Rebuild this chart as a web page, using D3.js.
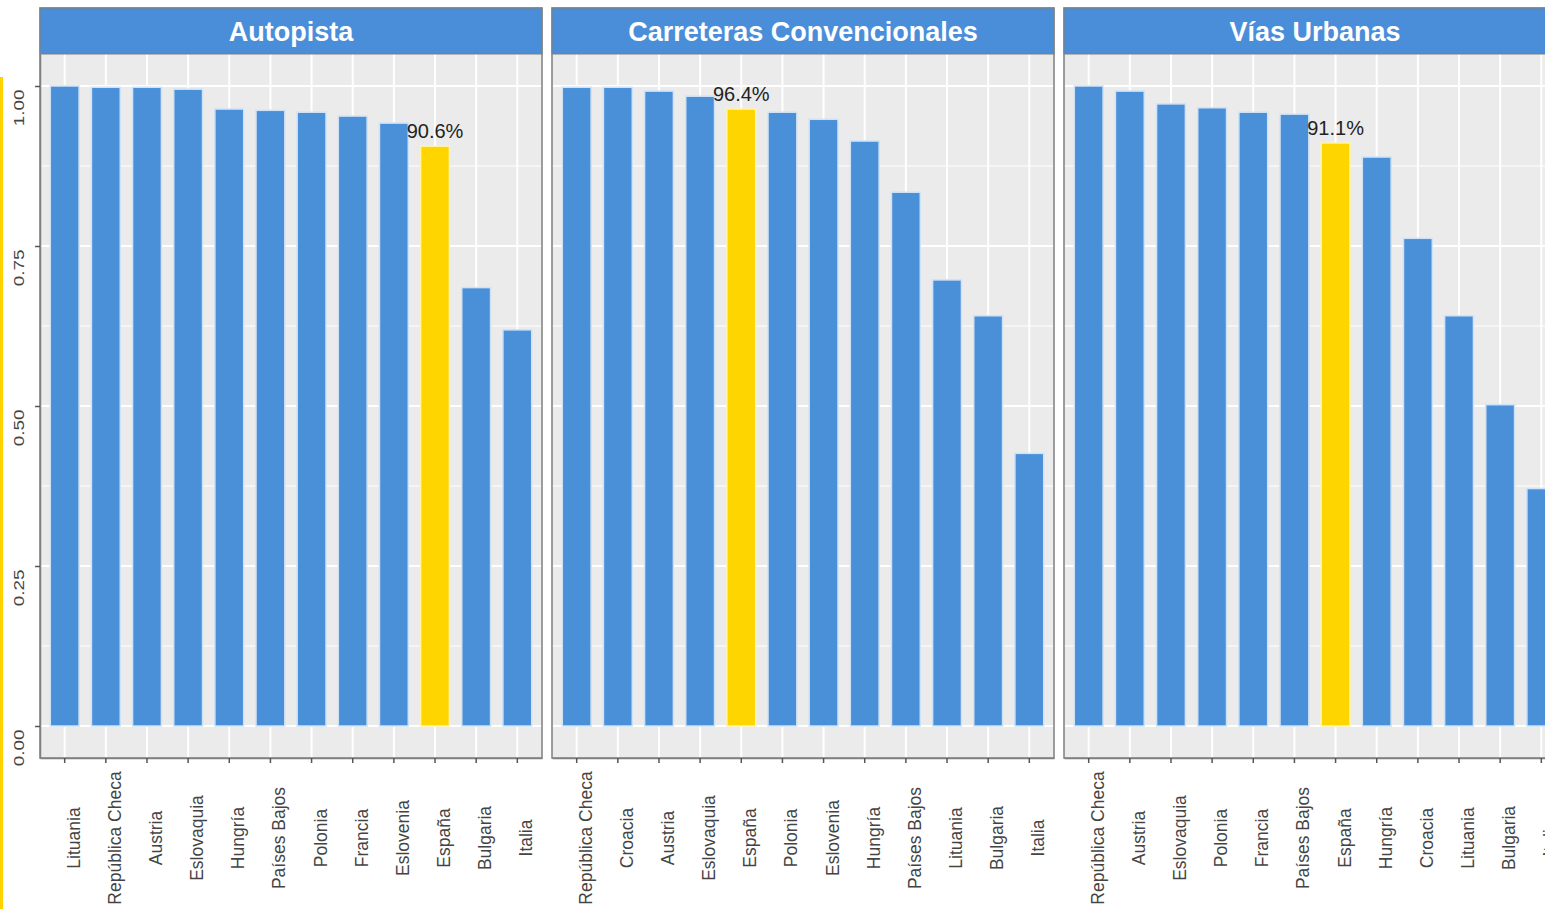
<!DOCTYPE html>
<html>
<head>
<meta charset="utf-8">
<script src="https://cdn.jsdelivr.net/npm/d3@7"></script>
<style>
  html, body { margin: 0; padding: 0; background: #ffffff; overflow: hidden; }
  svg { display: block; font-family: "Liberation Sans", Arial, sans-serif; }
</style>
</head>
<body>
<svg id="chart" width="1545" height="909"></svg>
<script>
// ---------- DATA ----------
const facetTitles = ["Autopista", "Carreteras Convencionales", "Vías Urbanas"];

const countriesAutopista = ["Lituania", "República Checa", "Austria", "Eslovaquia", "Hungría", "Países Bajos", "Polonia", "Francia", "Eslovenia", "España", "Bulgaria", "Italia"];
const valuesAutopista = [1.000, 0.998, 0.998, 0.995, 0.964, 0.962, 0.959, 0.953, 0.942, 0.906, 0.685, 0.619];

const countriesCarreteras = ["República Checa", "Croacia", "Austria", "Eslovaquia", "España", "Polonia", "Eslovenia", "Hungría", "Países Bajos", "Lituania", "Bulgaria", "Italia"];
const valuesCarreteras = [0.998, 0.998, 0.992, 0.984, 0.964, 0.959, 0.948, 0.914, 0.834, 0.697, 0.641, 0.426];

const countriesUrbanas = ["República Checa", "Austria", "Eslovaquia", "Polonia", "Francia", "Países Bajos", "España", "Hungría", "Croacia", "Lituania", "Bulgaria", "Italia"];
const valuesUrbanas = [1.000, 0.992, 0.972, 0.966, 0.959, 0.956, 0.911, 0.889, 0.762, 0.641, 0.502, 0.371];

const highlightCountry = "España";
const yTickValues = [0, 0.25, 0.5, 0.75, 1];
const yTickLabels = ["0.00", "0.25", "0.50", "0.75", "1.00"];
const yMinorValues = [0.125, 0.375, 0.625, 0.875];

// ---------- LAYOUT ----------
const facets = [
  { title: facetTitles[0], cats: countriesAutopista, vals: valuesAutopista },
  { title: facetTitles[1], cats: countriesCarreteras, vals: valuesCarreteras },
  { title: facetTitles[2], cats: countriesUrbanas, vals: valuesUrbanas }
];

const svg = d3.select("#chart");
const panelW = 502, panelGap = 10, firstLeft = 40;
const stripTop = 8, panelTop = 54, panelBottom = 758;

const blue = "#4a90d9";
const stripBlue = "#4a8ed9";
const gold = "#ffd500";
const panelBg = "#ebebeb";
const border = "#7f7f7f";
const textGrey = "#444444";

const y = d3.scaleLinear().domain([-0.05, 1.05]).range([panelBottom, panelTop]);

// yellow accent line at far left
svg.append("rect").attr("x", 0).attr("y", 77).attr("width", 3).attr("height", 909 - 77).attr("fill", "#ffd200");

facets.forEach((f, i) => {
  const left = firstLeft + i * (panelW + panelGap);
  const x = d3.scaleBand().domain(f.cats).range([left, left + panelW]).paddingInner(0.3).paddingOuter(0.25);
  const g = svg.append("g");

  // panel background
  g.append("rect").attr("x", left).attr("y", panelTop).attr("width", panelW).attr("height", panelBottom - panelTop).attr("fill", panelBg);

  // minor horizontal grid
  g.selectAll(".ming").data(yMinorValues).enter().append("line")
    .attr("x1", left).attr("x2", left + panelW)
    .attr("y1", d => y(d)).attr("y2", d => y(d))
    .attr("stroke", "#ffffff").attr("stroke-width", 1);
  // major horizontal grid
  g.selectAll(".majg").data(yTickValues).enter().append("line")
    .attr("x1", left).attr("x2", left + panelW)
    .attr("y1", d => y(d)).attr("y2", d => y(d))
    .attr("stroke", "#ffffff").attr("stroke-width", 2);
  // vertical grid
  g.selectAll(".vg").data(f.cats).enter().append("line")
    .attr("x1", d => x(d) + x.bandwidth() / 2).attr("x2", d => x(d) + x.bandwidth() / 2)
    .attr("y1", panelTop).attr("y2", panelBottom)
    .attr("stroke", "#ffffff").attr("stroke-width", 2);

  // bars
  g.selectAll(".bar").data(f.cats.map((c, k) => ({ c, v: f.vals[k] }))).enter().append("rect")
    .attr("x", d => x(d.c)).attr("width", x.bandwidth())
    .attr("y", d => y(d.v)).attr("height", d => y(0) - y(d.v))
    .attr("fill", d => d.c === highlightCountry ? gold : blue)
    .attr("stroke", d => d.c === highlightCountry ? "#fff3b0" : "#cfe2f6")
    .attr("stroke-width", 1.5);

  // highlight label
  const hi = f.cats.indexOf(highlightCountry);
  g.append("text")
    .attr("x", x(highlightCountry) + x.bandwidth() / 2)
    .attr("y", y(f.vals[hi]) - 8)
    .attr("text-anchor", "middle")
    .attr("font-size", 20).attr("fill", "#222222")
    .text((f.vals[hi] * 100).toFixed(1) + "%");

  // panel border
  g.append("rect").attr("x", left).attr("y", stripTop).attr("width", panelW).attr("height", panelBottom - stripTop)
    .attr("fill", "none").attr("stroke", border).attr("stroke-width", 1.5);

  // strip
  g.append("rect").attr("x", left).attr("y", stripTop).attr("width", panelW).attr("height", panelTop - stripTop)
    .attr("fill", stripBlue).attr("stroke", border).attr("stroke-width", 1);
  g.append("text")
    .attr("x", left + panelW / 2).attr("y", (stripTop + panelTop) / 2 + 10)
    .attr("text-anchor", "middle").attr("font-size", 27).attr("font-weight", "bold")
    .attr("fill", "#ffffff").text(f.title);

  // x axis
  const xAxis = d3.axisBottom(x).tickSize(5).tickSizeOuter(0);
  const ax = g.append("g").attr("transform", `translate(0,${panelBottom})`).call(xAxis);
  ax.select(".domain").attr("stroke", border).attr("stroke-width", 1.5);
  ax.selectAll(".tick line").attr("stroke", "#555").attr("stroke-width", 1.5);
  ax.selectAll(".tick text")
    .attr("font-size", 17.5).attr("fill", textGrey)
    .attr("text-anchor", "middle")
    .attr("y", 0).attr("dy", 0)
    .attr("transform", "translate(15,80) rotate(-90)");

  // y axis (only first panel)
  if (i === 0) {
    const yAxis = d3.axisLeft(y).tickValues(yTickValues).tickFormat((d, k) => yTickLabels[k]).tickSize(5).tickSizeOuter(0);
    const ay = g.append("g").attr("transform", `translate(${left},0)`).call(yAxis);
    ay.select(".domain").attr("stroke", border).attr("stroke-width", 1.5);
    ay.selectAll(".tick line").attr("stroke", "#555").attr("stroke-width", 1.5);
    ay.selectAll(".tick text")
      .attr("font-size", 14).attr("fill", textGrey)
      .attr("text-anchor", "end")
      .attr("x", 0).attr("dy", 0)
      .attr("transform", "translate(-16,3) rotate(-90) scale(1.35,1)");
  }
});
</script>
</body>
</html>
